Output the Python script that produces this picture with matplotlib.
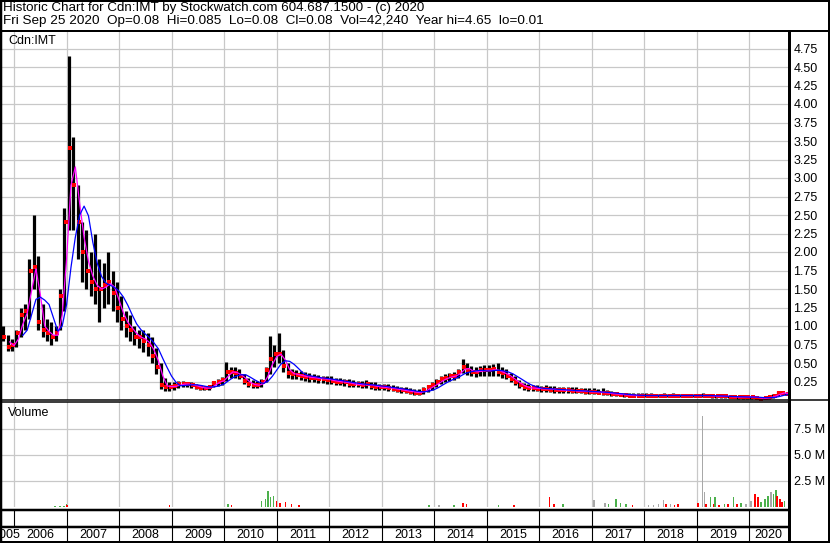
import numpy as np
import pandas as pd
import matplotlib
matplotlib.use("Agg")
from matplotlib import pyplot as plt
from matplotlib.lines import Line2D

plt.rcParams["font.family"] = ["Liberation Sans", "DejaVu Sans"]

W, H = 830, 543

# monthly bars Oct 2005 .. Sep 2020
months = pd.period_range("2005-10", "2020-09", freq="M")
highs = [
    1.00, 0.88, 0.82,
    0.95, 1.25, 1.30, 1.90, 2.50, 1.95, 1.30, 1.10, 1.05, 1.00, 1.50, 2.60,
    4.65, 3.55, 2.90, 2.40, 2.30, 2.00, 2.25, 1.90, 1.85, 2.00, 1.75, 1.60,
    1.40, 1.20, 1.15, 1.00, 0.95, 0.95, 0.90, 0.85, 0.70, 0.50, 0.30, 0.25,
    0.24, 0.26, 0.26, 0.25, 0.25, 0.22, 0.20, 0.19, 0.20, 0.26, 0.29, 0.31,
    0.52, 0.45, 0.44, 0.42, 0.35, 0.30, 0.27, 0.26, 0.28, 0.45, 0.86, 0.75,
    0.91, 0.68, 0.50, 0.42, 0.40, 0.39, 0.38, 0.36, 0.35, 0.34, 0.33, 0.33,
    0.32, 0.30, 0.30, 0.29, 0.28, 0.27, 0.26, 0.26, 0.27, 0.25, 0.24, 0.22,
    0.22, 0.21, 0.20, 0.19, 0.18, 0.17, 0.16, 0.15, 0.15, 0.17, 0.20, 0.24,
    0.28, 0.32, 0.35, 0.36, 0.38, 0.42, 0.55, 0.50, 0.46, 0.45, 0.46, 0.47,
    0.47, 0.48, 0.50, 0.44, 0.42, 0.36, 0.32, 0.27, 0.23, 0.21, 0.20, 0.20,
    0.19, 0.20, 0.19, 0.19, 0.18, 0.18, 0.17, 0.17, 0.17, 0.16, 0.16, 0.16,
    0.16, 0.15, 0.16, 0.14, 0.12, 0.11, 0.10, 0.10, 0.09, 0.09, 0.09, 0.09,
    0.09, 0.09, 0.08, 0.08, 0.09, 0.08, 0.09, 0.08, 0.08, 0.08, 0.08, 0.08,
    0.08, 0.09, 0.08, 0.07, 0.07, 0.07, 0.06, 0.06, 0.06, 0.06, 0.06, 0.05,
    0.05, 0.05, 0.04, 0.04, 0.06, 0.08, 0.12, 0.12, 0.10,
]
lows = [
    0.80, 0.66, 0.66,
    0.72, 0.85, 0.95, 1.10, 1.50, 0.95, 0.85, 0.80, 0.75, 0.80, 0.95, 1.20,
    2.30, 2.30, 1.90, 1.60, 1.50, 1.40, 1.30, 1.05, 1.25, 1.30, 1.20, 1.05,
    0.95, 0.85, 0.80, 0.75, 0.70, 0.65, 0.60, 0.50, 0.35, 0.15, 0.12, 0.12,
    0.14, 0.16, 0.17, 0.17, 0.16, 0.15, 0.13, 0.13, 0.14, 0.17, 0.19, 0.20,
    0.26, 0.30, 0.30, 0.28, 0.22, 0.18, 0.16, 0.16, 0.18, 0.24, 0.35, 0.45,
    0.50, 0.38, 0.30, 0.29, 0.28, 0.27, 0.26, 0.24, 0.24, 0.23, 0.23, 0.22,
    0.21, 0.20, 0.20, 0.19, 0.18, 0.17, 0.17, 0.16, 0.16, 0.15, 0.14, 0.13,
    0.13, 0.12, 0.12, 0.11, 0.10, 0.09, 0.08, 0.07, 0.07, 0.08, 0.11, 0.14,
    0.17, 0.21, 0.25, 0.26, 0.27, 0.30, 0.36, 0.34, 0.32, 0.31, 0.33, 0.33,
    0.33, 0.33, 0.32, 0.30, 0.28, 0.24, 0.20, 0.16, 0.14, 0.12, 0.12, 0.12,
    0.11, 0.11, 0.11, 0.10, 0.10, 0.10, 0.10, 0.09, 0.09, 0.09, 0.08, 0.08,
    0.08, 0.08, 0.07, 0.07, 0.06, 0.05, 0.05, 0.04, 0.04, 0.04, 0.04, 0.04,
    0.04, 0.04, 0.04, 0.04, 0.04, 0.04, 0.04, 0.04, 0.04, 0.04, 0.04, 0.04,
    0.04, 0.04, 0.04, 0.03, 0.03, 0.03, 0.03, 0.03, 0.03, 0.02, 0.02, 0.02,
    0.02, 0.02, 0.01, 0.01, 0.02, 0.03, 0.05, 0.07, 0.07,
]
closes = [
    0.85, 0.72, 0.75,
    0.90, 1.15, 1.20, 1.75, 1.80, 1.05, 0.95, 0.90, 0.85, 0.90, 1.40, 2.40,
    3.40, 2.90, 2.40, 2.00, 1.75, 1.60, 1.50, 1.50, 1.55, 1.60, 1.45, 1.25,
    1.10, 1.00, 0.95, 0.85, 0.85, 0.80, 0.75, 0.60, 0.45, 0.20, 0.18, 0.18,
    0.19, 0.21, 0.22, 0.21, 0.20, 0.18, 0.16, 0.16, 0.17, 0.23, 0.25, 0.27,
    0.38, 0.38, 0.36, 0.32, 0.26, 0.22, 0.20, 0.20, 0.24, 0.40, 0.55, 0.62,
    0.62, 0.46, 0.36, 0.35, 0.34, 0.32, 0.31, 0.30, 0.30, 0.28, 0.29, 0.27,
    0.26, 0.25, 0.24, 0.24, 0.22, 0.21, 0.21, 0.20, 0.21, 0.19, 0.18, 0.17,
    0.17, 0.16, 0.15, 0.14, 0.13, 0.12, 0.11, 0.10, 0.10, 0.13, 0.17, 0.20,
    0.24, 0.28, 0.30, 0.32, 0.33, 0.38, 0.45, 0.40, 0.38, 0.38, 0.40, 0.40,
    0.40, 0.42, 0.38, 0.36, 0.33, 0.28, 0.24, 0.20, 0.17, 0.16, 0.16, 0.15,
    0.15, 0.15, 0.14, 0.14, 0.13, 0.13, 0.13, 0.12, 0.12, 0.12, 0.11, 0.11,
    0.11, 0.10, 0.10, 0.09, 0.08, 0.08, 0.07, 0.07, 0.06, 0.06, 0.06, 0.06,
    0.06, 0.06, 0.06, 0.06, 0.06, 0.06, 0.06, 0.06, 0.06, 0.06, 0.06, 0.06,
    0.06, 0.06, 0.06, 0.05, 0.05, 0.05, 0.05, 0.04, 0.04, 0.04, 0.04, 0.04,
    0.04, 0.03, 0.02, 0.03, 0.04, 0.06, 0.09, 0.10, 0.08,
]

# daily volume spikes (millions)
vol_dates = [2006.78, 2006.87, 2006.95, 2007.00, 2007.01, 2008.96, 2010.07, 2010.14,
             2010.71, 2010.79, 2010.84, 2010.88, 2010.94, 2011.00, 2011.07, 2011.17,
             2011.28, 2011.43, 2013.90, 2014.09, 2014.38, 2014.55, 2014.62, 2015.23,
             2015.52, 2016.20, 2016.28, 2016.45, 2017.04, 2017.25, 2017.32, 2017.46,
             2017.55, 2017.65, 2017.78, 2018.08, 2018.18, 2018.27, 2018.37, 2018.42,
             2018.50, 2018.58, 2018.65, 2019.03, 2019.11, 2019.15, 2019.18, 2019.26,
             2019.32, 2019.35, 2019.43, 2019.53, 2019.60, 2019.70, 2019.77, 2019.85,
             2019.94, 2020.04, 2020.11, 2020.17, 2020.23, 2020.30, 2020.36, 2020.42,
             2020.46, 2020.51, 2020.53, 2020.59, 2020.63, 2020.67]
vol_values = [0.10, 0.10, 0.12, 0.25, 0.15, 0.15, 0.25, 0.15,
              0.60, 0.80, 1.50, 1.00, 1.10, 0.60, 0.40, 0.50,
              0.30, 0.20, 0.15, 0.20, 0.20, 0.40, 0.25, 0.20,
              0.20, 1.00, 0.30, 0.25, 0.70, 0.40, 0.30, 0.75,
              0.40, 0.30, 0.20, 0.15, 0.20, 0.25, 0.70, 0.25,
              0.30, 0.20, 0.25, 0.40, 8.70, 1.40, 0.30, 0.93,
              0.30, 0.93, 0.20, 0.25, 0.25, 0.95, 0.30, 0.35,
              0.30, 0.60, 1.25, 1.00, 0.45, 0.77, 1.10, 1.47,
              1.25, 1.64, 1.10, 0.77, 0.45, 0.60]
vol_colors = ["g", "g", "g", "g", "r", "r", "g", "r",
              "g", "g", "g", "g", "g", "r", "r", "r",
              "r", "r", "g", "k", "g", "r", "r", "g",
              "r", "r", "r", "g", "k", "k", "g", "g",
              "g", "g", "r", "k", "k", "k", "k", "r",
              "k", "r", "r", "r", "k", "k", "r", "g",
              "r", "g", "r", "g", "r", "g", "r", "g",
              "k", "k", "r", "r", "g", "g", "g", "k",
              "g", "g", "r", "r", "r", "g"]

year_bounds = list(range(2006, 2021))
year_labels = ["2005", "2006", "2007", "2008", "2009", "2010", "2011", "2012",
               "2013", "2014", "2015", "2016", "2017", "2018", "2019", "2020"]
price_ticks = [0.25, 0.50, 0.75, 1.00, 1.25, 1.50, 1.75, 2.00, 2.25, 2.50,
               2.75, 3.00, 3.25, 3.50, 3.75, 4.00, 4.25, 4.50, 4.75]
vol_ticks = [2.5, 5.0, 7.5]
vol_labels = ["2.5 M", "5.0 M", "7.5 M"]

line1 = "Historic Chart for Cdn:IMT by Stockwatch.com 604.687.1500 - (c) 2020"
line2 = "Fri Sep 25 2020  Op=0.08  Hi=0.085  Lo=0.08  Cl=0.08  Vol=42,240  Year hi=4.65  lo=0.01"

XMIN, XMAX = 2005.77, 2020.74
PX = (XMAX - XMIN) / 786  # one pixel in years
GRID = "#c8c8c8"
VCOL = {"g": "#4cb04c", "r": "#ff0000", "k": "#a8a8a8"}


def box(l, t, r, b):
    return [l / W, 1 - b / H, (r - l) / W, (b - t) / H]


def hline(fig, y, x0, x1, px):
    fig.add_artist(Line2D([x0 / W, x1 / W], [1 - y / H, 1 - y / H],
                          color="black", lw=px * 0.72, solid_capstyle="butt"))


def vline(fig, x, y0, y1, px):
    fig.add_artist(Line2D([x / W, x / W], [1 - y0 / H, 1 - y1 / H],
                          color="black", lw=px * 0.72, solid_capstyle="butt"))


x = np.array([p.year + (p.month - 0.5) / 12 for p in months])
x_end = x + 0.5 / 12
c = pd.Series(closes)
ma_short = c.rolling(2).mean()
ma_long = c.rolling(5).mean()

fig = plt.figure(figsize=(W / 100, H / 100), dpi=100)

# price panel
ax_p = fig.add_axes(box(2, 30, 788, 400))
ax_p.set_xlim(XMIN, XMAX)
ax_p.set_ylim(0, 5.0)
ax_p.set_axisbelow(True)
ax_p.set_xticks(year_bounds)
ax_p.set_yticks(price_ticks)
ax_p.set_yticklabels([f"{v:.2f}" for v in price_ticks])
ax_p.yaxis.tick_right()
ax_p.tick_params(length=0, labelbottom=False, labelsize=9, pad=4)
ax_p.grid(True, color=GRID, lw=0.9)
ax_p.vlines(x, lows, highs, colors="black", lw=2.3)
ax_p.plot(x + 1.3 * PX, closes, "s", color="#ff0000", ms=2.4, mew=0)
ax_p.plot(x_end, ma_short, color="#ff00ff", lw=0.9)
ax_p.plot(x_end, ma_long, color="#0000ff", lw=0.9)

# volume panel
ax_v = fig.add_axes(box(2, 402, 788, 507))
ax_v.set_xlim(XMIN, XMAX)
ax_v.set_ylim(0, 10.05)
ax_v.set_axisbelow(True)
ax_v.set_xticks(year_bounds)
ax_v.set_yticks(vol_ticks)
ax_v.set_yticklabels(vol_labels)
ax_v.yaxis.tick_right()
ax_v.tick_params(length=0, labelbottom=False, labelsize=9, pad=4)
ax_v.grid(True, color=GRID, lw=0.9)
ax_v.bar(vol_dates, vol_values, width=0.03, color=[VCOL[k] for k in vol_colors])

# date rows
ax_d = fig.add_axes(box(2, 509, 788, 543))
ax_d.set_xlim(XMIN, XMAX)
ax_d.set_ylim(0, 1)
ax_d.set_xticks([])
ax_d.set_yticks([])
for yb in year_bounds:
    ax_d.axvline(yb, ymin=0.5 if yb == 2006 else 0.0, ymax=1.0, color="black", lw=0.8)
centers = [XMIN + 18 * PX] + [yb + 0.5 for yb in year_bounds[:-1]] + [2020.36]
for cx, lab in zip(centers, year_labels):
    ax_d.text(cx, 0.24, lab, ha="right" if lab == "2005" else "center",
              va="center", fontsize=9, clip_on=False)

for ax in (ax_p, ax_v, ax_d):
    for s in ax.spines.values():
        s.set_visible(False)

# header and panel captions
fig.text(3 / W, 1 - 7.5 / H, line1, va="center", fontsize=9.6)
fig.text(3 / W, 1 - 21 / H, line2, va="center", fontsize=9.7)
fig.text(8 / W, 1 - 41 / H, "Cdn:IMT", va="center", fontsize=9)
fig.text(8 / W, 1 - 413 / H, "Volume", va="center", fontsize=9)

# frame lines
vline(fig, 1, 0, 543, 2.5)
vline(fig, 829, 0, 543, 2)
hline(fig, 1, 0, 830, 2)
hline(fig, 542, 0, 830, 2)
hline(fig, 30.5, 0, 830, 2)
vline(fig, 788.5, 30, 543, 3)
hline(fig, 399.5, 0, 830, 1.5)
hline(fig, 402, 0, 788, 1.5)
hline(fig, 509.5, 0, 788, 2.5)
hline(fig, 526.5, 0, 788, 2.5)

fig.savefig("out.png", dpi=100)
